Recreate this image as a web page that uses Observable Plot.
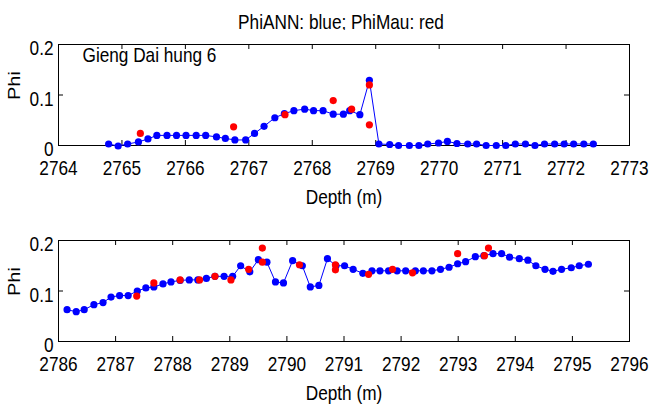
<!DOCTYPE html>
<html><head><meta charset="utf-8">
<script src="https://cdn.jsdelivr.net/npm/d3@7"></script>
<script src="https://cdn.jsdelivr.net/npm/@observablehq/plot@0.6"></script>
<style>
body{margin:0;background:#fff;width:649px;height:405px;overflow:hidden;position:relative;font-family:"Liberation Sans",Arial,sans-serif;}
#title{position:absolute;left:0;width:682px;top:11px;text-align:center;font-size:21px;line-height:1;color:#000;white-space:nowrap;transform:scaleX(0.82);transform-origin:341px 0}
.panel{position:absolute;left:0}
</style></head><body>
<div id="title">PhiANN: blue; PhiMau: red</div>
<div id="p1" class="panel" style="top:30px"></div>
<div id="p2" class="panel" style="top:226px"></div>
<script>
// ---- Panel 1 (Gieng Dai hung 6, 2764-2773 m) ----
const topDepthANN = [2764.79, 2764.94, 2765.09, 2765.26, 2765.41, 2765.55, 2765.71, 2765.86, 2766.01, 2766.17, 2766.32, 2766.49, 2766.63, 2766.78, 2766.95, 2767.09, 2767.24, 2767.41, 2767.56, 2767.71, 2767.88, 2768.02, 2768.17, 2768.33, 2768.49, 2768.59, 2768.75, 2768.90, 2769.05, 2769.22, 2769.36, 2769.53, 2769.68, 2769.82, 2769.99, 2770.13, 2770.28, 2770.45, 2770.59, 2770.74, 2770.90, 2771.05, 2771.20, 2771.36, 2771.51, 2771.66, 2771.82, 2771.97, 2772.12, 2772.28, 2772.43];
const topPhiANN = [0.003, -0.001, 0.003, 0.007, 0.013, 0.020, 0.020, 0.020, 0.020, 0.020, 0.020, 0.017, 0.014, 0.011, 0.011, 0.024, 0.038, 0.055, 0.063, 0.069, 0.072, 0.069, 0.069, 0.062, 0.062, 0.069, 0.061, 0.129, 0.003, 0.002, 0.000, 0.000, 0.000, 0.003, 0.005, 0.008, 0.004, 0.003, 0.003, 0.000, 0.000, 0.000, 0.003, 0.003, 0.000, 0.003, 0.003, 0.003, 0.003, 0.003, 0.003];
const topDepthMau = [2765.29, 2766.76, 2767.57, 2768.33, 2768.62, 2768.90, 2768.90];
const topPhiMau = [0.024, 0.037, 0.061, 0.089, 0.072, 0.120, 0.041];
const topXTicks = [2764, 2765, 2766, 2767, 2768, 2769, 2770, 2771, 2772, 2773];

// ---- Panel 2 (2786-2796 m) ----
const botDepthANN = [2786.15, 2786.31, 2786.45, 2786.62, 2786.78, 2786.92, 2787.07, 2787.22, 2787.38, 2787.53, 2787.67, 2787.83, 2787.97, 2788.13, 2788.29, 2788.44, 2788.59, 2788.74, 2788.90, 2789.05, 2789.19, 2789.35, 2789.50, 2789.65, 2789.80, 2789.94, 2790.10, 2790.27, 2790.41, 2790.56, 2790.71, 2790.86, 2791.01, 2791.16, 2791.33, 2791.49, 2791.63, 2791.78, 2791.93, 2792.08, 2792.25, 2792.39, 2792.54, 2792.69, 2792.84, 2792.99, 2793.13, 2793.30, 2793.45, 2793.61, 2793.76, 2793.90, 2794.07, 2794.22, 2794.36, 2794.52, 2794.66, 2794.81, 2794.98, 2795.12, 2795.28];
const botPhiANN = [0.063, 0.059, 0.063, 0.073, 0.077, 0.088, 0.091, 0.091, 0.100, 0.106, 0.108, 0.114, 0.118, 0.121, 0.122, 0.122, 0.125, 0.129, 0.129, 0.129, 0.150, 0.138, 0.162, 0.157, 0.118, 0.116, 0.160, 0.150, 0.108, 0.111, 0.164, 0.150, 0.150, 0.143, 0.135, 0.140, 0.140, 0.140, 0.140, 0.140, 0.140, 0.140, 0.140, 0.143, 0.147, 0.154, 0.158, 0.168, 0.170, 0.174, 0.174, 0.167, 0.164, 0.161, 0.150, 0.143, 0.139, 0.143, 0.146, 0.150, 0.153];
const botDepthMau = [2787.37, 2787.67, 2788.13, 2788.47, 2788.74, 2789.02, 2789.33, 2789.57, 2789.57, 2790.22, 2790.85, 2790.85, 2791.43, 2791.85, 2792.20, 2792.99, 2793.46, 2793.53];
const botPhiMau = [0.090, 0.116, 0.122, 0.122, 0.129, 0.122, 0.143, 0.185, 0.157, 0.152, 0.152, 0.142, 0.133, 0.143, 0.136, 0.174, 0.170, 0.185];
const botXTicks = [2786, 2787, 2788, 2789, 2790, 2791, 2792, 2793, 2794, 2795, 2796];

const yTicks = [0, 0.1, 0.2];
const xLabel = "Depth (m)";
const yLabel = "Phi";
const wellName = "Gieng Dai hung 6";

const FONT = '"Liberation Sans",Arial,sans-serif';

function panel(depA, phiA, depM, phiM, xTicks, note) {
  const ann = depA.map((d, i) => ({depth: d, phi: phiA[i]}));
  const mau = depM.map((d, i) => ({depth: d, phi: phiM[i]}));
  const W = 649, H = 180, mt = 14, mb = 65, ml = 58, mr = 20;
  const innerW = W - ml - mr, innerH = H - mt - mb;
  const marks = [
    Plot.ruleX(xTicks, {x: d => d, stroke: "black", insetTop: innerH - 5}),
    Plot.ruleX(xTicks, {x: d => d, stroke: "black", insetBottom: innerH - 5}),
    Plot.ruleY(yTicks, {y: d => d, stroke: "black", insetRight: innerW - 5}),
    Plot.ruleY(yTicks, {y: d => d, stroke: "black", insetLeft: innerW - 5}),
    Plot.frame({stroke: "black"}),
    Plot.axisX({ticks: xTicks, tickSize: 0, tickPadding: 15, tickFormat: d => String(d), label: null, fontSize: 21}),
    Plot.axisY({ticks: yTicks, tickSize: 0, tickPadding: 5, dy: 4, tickFormat: d => String(d), label: null, fontSize: 21}),
    Plot.line(ann, {x: "depth", y: "phi", stroke: "#0000ff", strokeWidth: 1}),
    Plot.dot(ann, {x: "depth", y: "phi", r: 3.6, fill: "#0000ff"}),
    Plot.dot(mau, {x: "depth", y: "phi", r: 3.6, fill: "#ff0000"}),
    Plot.text([xLabel], {frameAnchor: "bottom", lineAnchor: "top", dy: 44, fontSize: 21, fill: "black"}),
    Plot.text([yLabel], {frameAnchor: "left", rotate: -90, dx: -44, dy: 5, fontSize: 20, fill: "black"})
  ];
  if (note) marks.push(Plot.text([note], {frameAnchor: "top-left", textAnchor: "start", lineAnchor: "top", dx: 24, dy: 3, fontSize: 21, fill: "black"}));
  const svg = Plot.plot({
    width: W, height: H,
    marginTop: mt, marginBottom: mb, marginLeft: ml, marginRight: mr,
    x: {domain: [xTicks[0], xTicks[xTicks.length - 1]], axis: null},
    y: {domain: [0, 0.2], axis: null},
    style: {background: "white", color: "black", fontFamily: FONT, fontSize: "21px", overflow: "visible"},
    marks
  });
  // narrow the glyphs horizontally, like the reference figure
  svg.querySelectorAll("text").forEach(t => {
    const tr = t.getAttribute("transform");
    if (tr && tr.includes("translate")) {
      const s = tr.includes("rotate") ? " scale(1,0.82)" : " scale(0.82,1)";
      t.setAttribute("transform", tr + s);
    }
  });
  return svg;
}

document.getElementById("p1").appendChild(panel(topDepthANN, topPhiANN, topDepthMau, topPhiMau, topXTicks, wellName));
document.getElementById("p2").appendChild(panel(botDepthANN, botPhiANN, botDepthMau, botPhiMau, botXTicks, null));
</script>
</body></html>
